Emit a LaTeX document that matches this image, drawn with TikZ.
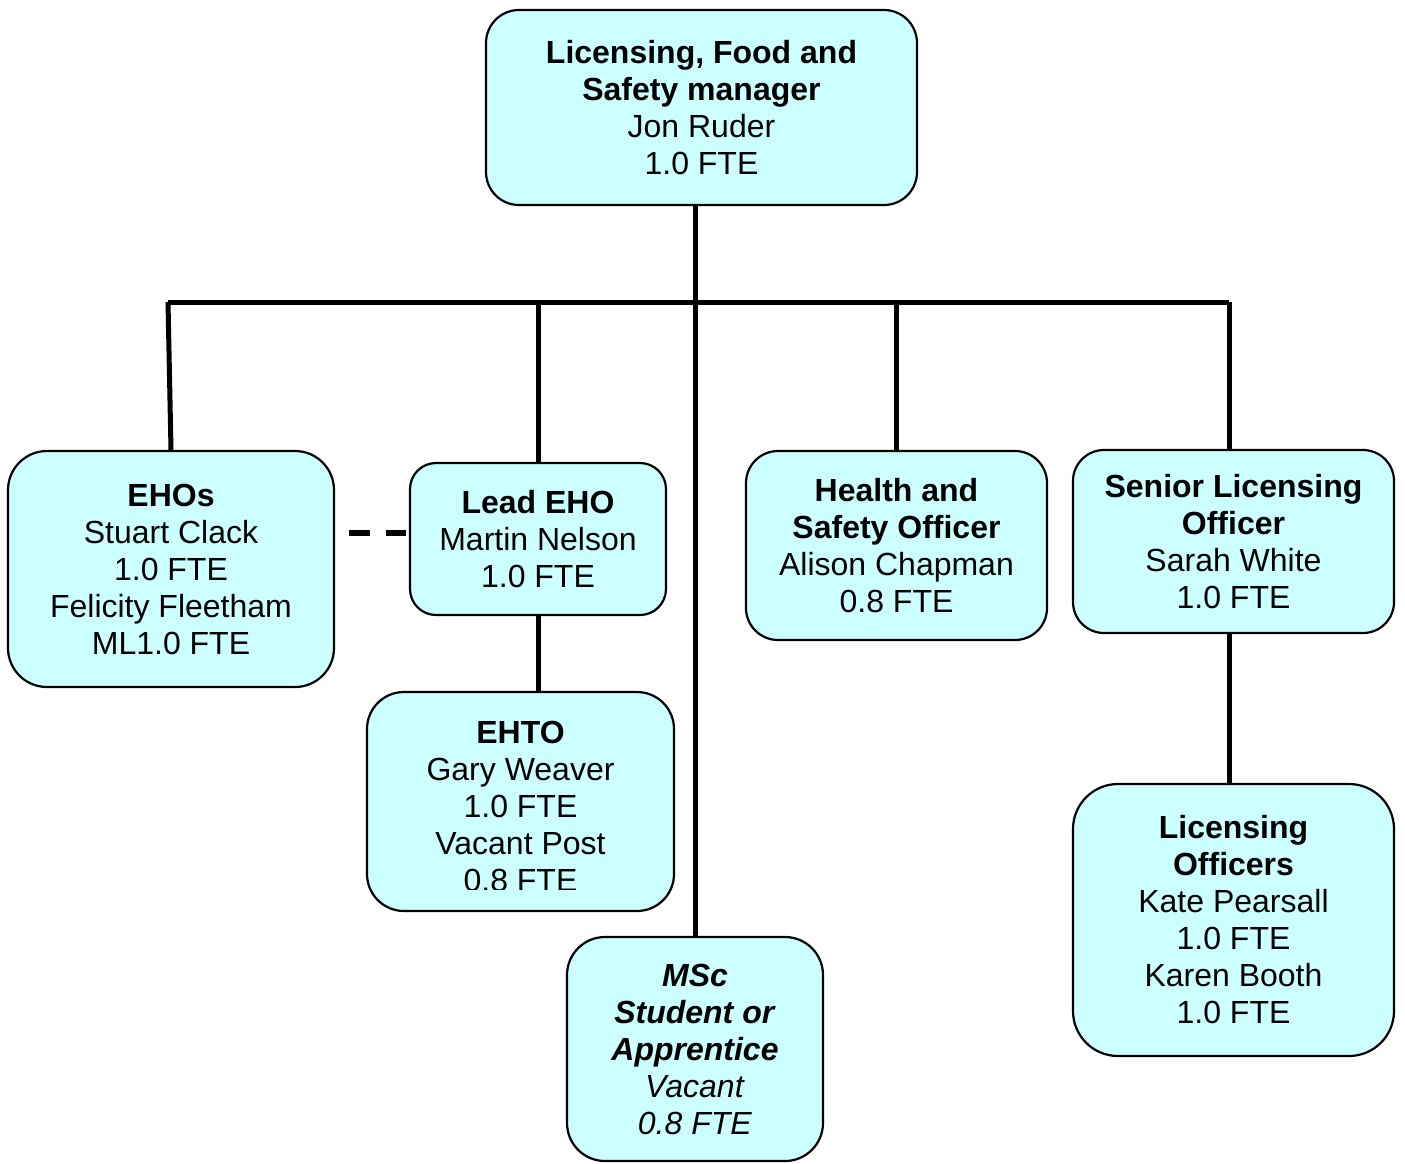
\documentclass[tikz,border=0pt]{standalone}
\usepackage{fontspec}
\setmainfont{Liberation Sans}
\usetikzlibrary{calc}
\definecolor{boxfill}{HTML}{CCFFFF}
\begin{document}
\begin{tikzpicture}[x=1pt,y=-1pt,
  orgbox/.style={draw=black, line width=2.2pt, fill=boxfill, inner sep=0pt,
    align=center, font=\fontsize{32}{37}\selectfont},
  conn/.style={line width=5pt, black},
  dashconn/.style={line width=5.5pt, black, dash pattern=on 21pt off 16pt}]
\useasboundingbox (0,0) rectangle (1405,1163);

% boxes: centre (x,y), width, height in px
\node[orgbox, rounded corners=33pt, minimum width=431pt, minimum height=195pt] (top) at (701.5,107.5)
  {\textbf{Licensing, Food and}\\\textbf{Safety manager}\\Jon Ruder\\1.0 FTE};
\node[orgbox, rounded corners=39pt, minimum width=326pt, minimum height=236pt] (ehos) at (171,569)
  {\textbf{EHOs}\\Stuart Clack\\1.0 FTE\\Felicity Fleetham\\ML1.0 FTE};
\node[orgbox, rounded corners=26pt, minimum width=256pt, minimum height=152pt] (lead) at (538,539)
  {\textbf{Lead EHO}\\Martin Nelson\\1.0 FTE};
\node[orgbox, rounded corners=32pt, minimum width=301pt, minimum height=189pt] (hs) at (896.5,545.5)
  {\textbf{Health and}\\\textbf{Safety Officer}\\Alison Chapman\\0.8 FTE};
\node[orgbox, rounded corners=31pt, minimum width=321pt, minimum height=183pt] (senior) at (1233.5,541.5)
  {\textbf{Senior Licensing}\\\textbf{Officer}\\Sarah White\\1.0 FTE};
\node[orgbox, rounded corners=37pt, minimum width=307pt, minimum height=219pt] (ehto) at (520.5,801.5) {};
\begin{scope}
  \clip (367,692) rectangle (674,889);
  \node[align=center, inner sep=0pt, font=\fontsize{32}{37}\selectfont] (ehtotext) at (520.5,806)
    {\textbf{EHTO}\\Gary Weaver\\1.0 FTE\\Vacant Post\\0.8 FTE};
\end{scope}
\node[orgbox, rounded corners=38pt, minimum width=256pt, minimum height=224pt] (msc) at (695,1049)
  {\textbf{\textit{MSc}}\\\textbf{\textit{Student or}}\\\textbf{\textit{Apprentice}}\\\textit{Vacant}\\\textit{0.8 FTE}};
\node[orgbox, rounded corners=45pt, minimum width=321pt, minimum height=272pt] (licoff) at (1233.5,920)
  {\textbf{Licensing}\\\textbf{Officers}\\Kate Pearsall\\1.0 FTE\\Karen Booth\\1.0 FTE};

% bus
\coordinate (busL) at (168,302);
\coordinate (busR) at (1229,302);
\draw[conn] (busL) -- (busR);
\draw[conn] (msc.north |- top.south) -- (msc.north);
\draw[conn] (busL) -- (ehos.north);
\draw[conn] (lead.north |- busL) -- (lead.north);
\draw[conn] (hs.north |- busL) -- (hs.north);
\draw[conn] (busR) -- (busR |- senior.north);
\draw[conn] (lead.south) -- (lead.south |- ehto.north);
\draw[conn] (busR |- senior.south) -- (busR |- licoff.north);
\draw[dashconn] ($(ehos.east |- lead.west)+(14,-6)$) -- ($(lead.west)+(-3,-6)$);
\end{tikzpicture}
\end{document}
